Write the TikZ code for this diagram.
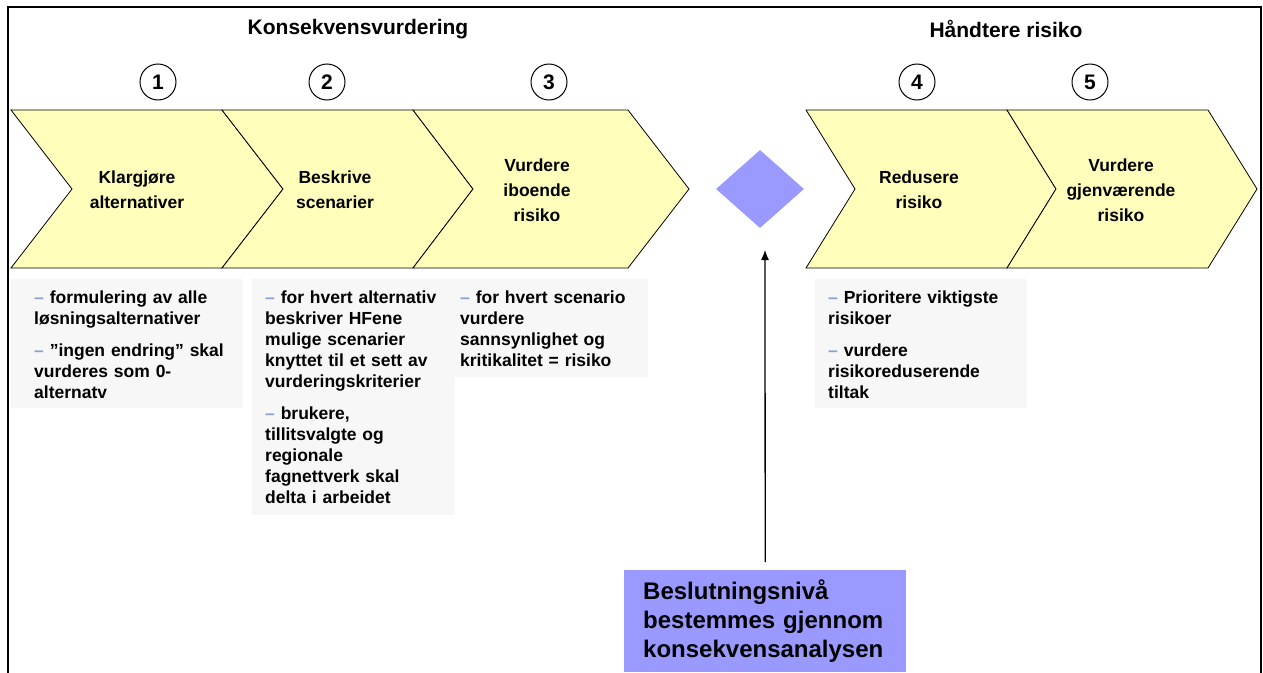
\documentclass[tikz,border=0pt]{standalone}
\usepackage{fontspec}
\setmainfont{Liberation Sans}
\usetikzlibrary{shapes.geometric,arrows.meta}
\definecolor{chevfill}{RGB}{255,255,187}
\definecolor{diafill}{RGB}{153,153,255}
\definecolor{boxgray}{RGB}{247,247,247}
\definecolor{dashcol}{RGB}{140,160,205}
\newcommand{\itm}{{\color{dashcol}–}~}
\begin{document}
\begin{tikzpicture}[x=1pt,y=-1pt,
  chevron/.style={draw=black, line width=0.8pt, fill=chevfill, line join=miter},
  lbl/.style={font=\fontsize{17.5}{25}\selectfont\bfseries, align=center, inner sep=0pt},
  numc/.style={circle, draw=black, line width=1pt, minimum size=36pt, inner sep=0pt, font=\fontsize{21}{24}\selectfont\bfseries},
  hdr/.style={font=\fontsize{21}{25}\selectfont\bfseries, inner sep=0pt},
  gbox/.style={fill=boxgray, draw=none, inner sep=0pt, anchor=north west},
  btxt/.style={font=\fontsize{17.5}{21}\selectfont\bfseries, align=left, anchor=base west, inner sep=0pt},
  arr/.style={-{Latex[length=10pt,width=8pt]}, line width=1.3pt},
  frame/.style={draw=black, line width=1.6pt}
]
\useasboundingbox (0,0) rectangle (1263,672);
\fill[white] (0,0) rectangle (1263,672);

% frame (bottom edge outside the picture)
\draw[frame] (8,680) -- (8,7) -- (1261,7) -- (1261,680);

% headers
\node[hdr] (h1) at (358,29) {Konsekvensvurdering};
\node[hdr] (h2) at (1006,29) {Håndtere risiko};

% number circles
\node[numc] (n1) at (158,82) {1};
\node[numc] (n2) at (327,82) {2};
\node[numc] (n3) at (549,82) {3};
\node[numc] (n4) at (917,82) {4};
\node[numc] (n5) at (1090,82) {5};

% chevrons
\draw[chevron] (11,110) -- (222,110) -- (283,189) -- (222,268) -- (11,268) -- (72,189) -- cycle;
\draw[chevron] (222,110) -- (413,110) -- (473,189) -- (413,268) -- (222,268) -- (283,189) -- cycle;
\draw[chevron] (413,110) -- (628,110) -- (689,189) -- (628,268) -- (413,268) -- (473,189) -- cycle;
\draw[chevron] (806,110) -- (1007,110) -- (1056,189) -- (1007,268) -- (806,268) -- (855,189) -- cycle;
\draw[chevron] (1007,110) -- (1208,110) -- (1257,189) -- (1208,268) -- (1007,268) -- (1056,189) -- cycle;

\node[lbl] (c1) at (137,190) {Klargjøre\\alternativer};
\node[lbl] (c2) at (335,190) {Beskrive\\scenarier};
\node[lbl] (c3) at (537,190) {Vurdere\\iboende\\risiko};
\node[lbl] (c4) at (919,190) {Redusere\\risiko};
\node[lbl] (c5) at (1121,190) {Vurdere\\gjenværende\\risiko};

% decision diamond
\node[diamond, fill=diafill, draw=none, minimum width=88pt, minimum height=78pt, inner sep=0pt] (dia) at (760,189) {};

% grey text boxes
\node[gbox, minimum width=232pt, minimum height=129pt] (b1) at (11,279) {};
\node[gbox, minimum width=203pt, minimum height=236pt] (b2) at (252,279) {};
\node[gbox, minimum width=193pt, minimum height=98pt] (b3) at (455,279) {};
\node[gbox, minimum width=212pt, minimum height=129pt] (b4) at (815,279) {};

\node[btxt, text width=205pt] (t1) at (34,303) {\itm formulering av alle\\løsningsalternativer\\[11pt]\itm ”ingen endring” skal\\vurderes som 0-\\alternatv};
\node[btxt, text width=190pt] (t2) at (265,303) {\itm for hvert alternativ\\beskriver HFene\\mulige scenarier\\knyttet til et sett av\\vurderingskriterier\\[11pt]\itm brukere,\\tillitsvalgte og\\regionale\\fagnettverk skal\\delta i arbeidet};
\node[btxt, text width=188pt] (t3) at (460,303) {\itm for hvert scenario\\vurdere\\sannsynlighet og\\kritikalitet = risiko};
\node[btxt, text width=199pt] (t4) at (828,303) {\itm Prioritere viktigste\\risikoer\\[11pt]\itm vurdere\\risikoreduserende\\tiltak};

% decision box
\node[fill=diafill, anchor=north west, minimum width=282pt, minimum height=102pt, inner xsep=19pt, inner ysep=0pt, text width=244pt, align=left, font=\fontsize{24}{29}\selectfont\bfseries] (dec) at (624,570) {Beslutningsnivå\\bestemmes gjennom\\konsekvensanalysen};

% arrow
\coordinate (atip) at (765,250);
\draw[arr, shorten <=8pt] (dec.north) -- (atip);
\end{tikzpicture}
\end{document}
